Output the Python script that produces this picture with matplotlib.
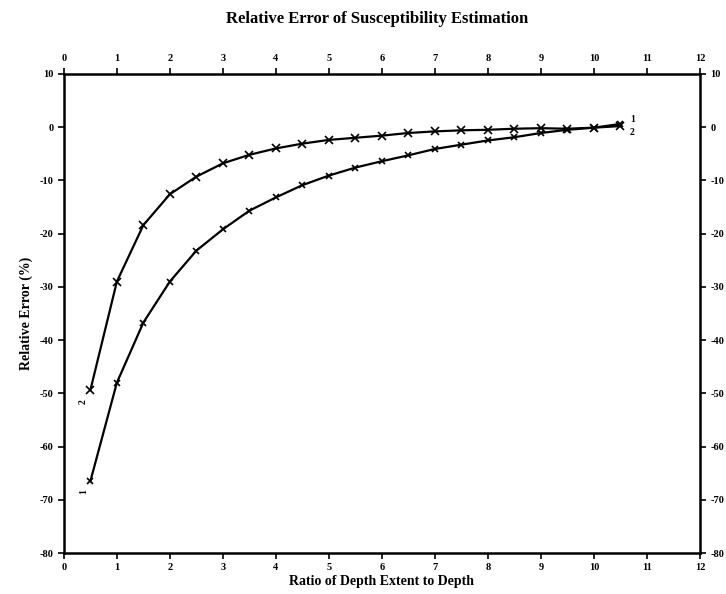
import numpy as np
import matplotlib.pyplot as plt

# depth extent / depth ratio
ratio = [0.5, 1, 1.5, 2, 2.5, 3, 3.5, 4, 4.5, 5, 5.5, 6, 6.5, 7, 7.5, 8, 8.5, 9, 9.5, 10, 10.5]
# relative error (%) for the two cases
err1 = [-66.5, -48.0, -36.7, -29.0, -23.2, -19.2, -15.7, -13.2, -10.9, -9.1, -7.6,
        -6.4, -5.3, -4.1, -3.3, -2.5, -1.9, -1.1, -0.5, -0.1, 0.6]
err2 = [-49.4, -29.0, -18.4, -12.6, -9.3, -6.8, -5.2, -4.0, -3.1, -2.4, -2.0,
        -1.6, -1.1, -0.8, -0.6, -0.5, -0.3, -0.2, -0.3, -0.1, 0.2]

xticks = list(range(0, 13))
yticks = list(range(-80, 11, 10))

plt.rcParams['font.family'] = 'Liberation Serif'
plt.rcParams['font.weight'] = 'bold'
plt.rcParams['axes.unicode_minus'] = False

fig = plt.figure(figsize=(7.26, 5.94), dpi=100)
ax = fig.add_axes([0.088, 0.069, 0.876, 0.8066])

ax.plot(ratio, err1, color='black', lw=1.6, marker='x', ms=5, mew=1.2)
ax.plot(ratio, err2, color='black', lw=1.6, marker='x', ms=6, mew=1.2)

# curve labels
ax.text(0.45, -68.5, '1', rotation=90, fontsize=7, ha='right', va='center', fontweight='bold')
ax.text(0.45, -51.5, '2', rotation=90, fontsize=7, ha='right', va='center', fontweight='bold')
ax.text(10.68, 1.4, '1', fontsize=7, ha='left', va='center', fontweight='bold')
ax.text(10.68, -1.0, '2', fontsize=7, ha='left', va='center', fontweight='bold')

ax.set_xlim(0, 12)
ax.set_ylim(-80, 10)
ax.set_xticks(xticks)
ax.set_yticks(yticks)
ax.tick_params(direction='out', length=4, width=1.2, labelsize=7.5,
               top=True, right=True, labeltop=True, labelright=True)
for lab in ax.get_xticklabels() + ax.get_yticklabels():
    lab.set_fontweight('bold')
for s in ax.spines.values():
    s.set_linewidth(1.8)

ax.set_xlabel('Ratio of Depth Extent to Depth', fontsize=10, fontweight='bold', labelpad=2)
ax.set_ylabel('Relative Error (%)', fontsize=10, fontweight='bold', labelpad=5)
fig.text(0.52, 0.968, 'Relative Error of Susceptibility Estimation', ha='center', va='center',
         fontsize=12, fontweight='bold')

fig.savefig('out.png', dpi=100)
